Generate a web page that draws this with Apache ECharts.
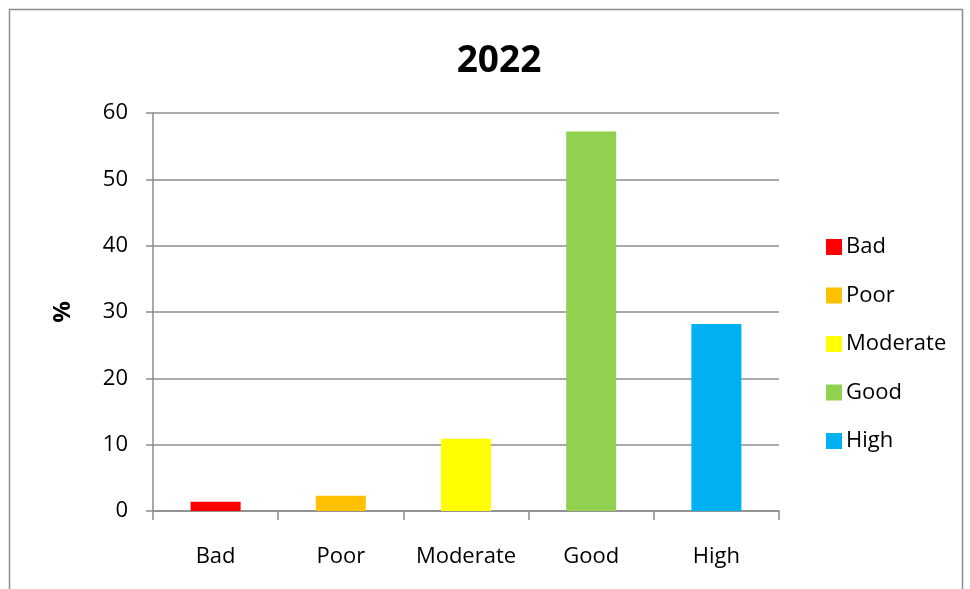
<!DOCTYPE html>
<html>
<head>
<meta charset="utf-8">
<script src="https://cdn.jsdelivr.net/npm/echarts@6/dist/echarts.min.js"></script>
<style>
html,body{margin:0;padding:0;background:#fff;}
#chart{width:970px;height:589px;}
</style>
</head>
<body>
<div id="chart"></div>
<script>
const titleText = '2022';
const categories = ['Bad', 'Poor', 'Moderate', 'Good', 'High'];
const values = [1.4, 2.3, 10.9, 57.2, 28.2];
const colors = ['#ff0000', '#ffc000', '#ffff00', '#92d050', '#00b0f0'];
const yTicks = { min: 0, max: 60, interval: 10 };
const yName = '%';

const FONT = '"Open Sans", sans-serif';
const chart = echarts.init(document.getElementById('chart'), null, { renderer: 'canvas' });

const series = categories.map((name, i) => ({
  name: name,
  type: 'bar',
  barWidth: 50,
  barGap: '-100%',
  itemStyle: { color: colors[i] },
  data: categories.map((c, j) => (j === i ? values[i] : '-'))
}));

chart.setOption({
  animation: false,
  backgroundColor: '#ffffff',
  graphic: [{
    type: 'rect',
    shape: { x: 9.5, y: 9.5, width: 953, height: 600 },
    style: { fill: 'none', stroke: '#8c8c8c', lineWidth: 1.5 },
    silent: true,
    z: 100
  }],
  title: {
    text: titleText,
    left: 494,
    top: 37,
    textAlign: 'center',
    textStyle: { fontFamily: FONT, fontWeight: 'bold', fontSize: 37, color: '#000', lineHeight: 38 }
  },
  legend: {
    orient: 'vertical',
    left: 821,
    top: 231,
    itemWidth: 16,
    itemHeight: 16,
    itemGap: 26.5,
    icon: 'rect',
    textStyle: { fontFamily: FONT, fontSize: 22, color: '#000', lineHeight: 18, padding: [0, 0, 0, -1] },
    data: categories
  },
  grid: { left: 153, right: 191, top: 113, bottom: 78 },
  xAxis: {
    type: 'category',
    data: categories,
    boundaryGap: true,
    axisLine: { show: true, lineStyle: { color: '#8c8c8c', width: 1.5 } },
    axisTick: { show: true, length: 9, alignWithLabel: false, interval: 0, lineStyle: { color: '#8c8c8c', width: 1.5 } },
    axisLabel: { fontFamily: FONT, fontSize: 22, color: '#000', margin: 35, interval: 0 },
    splitLine: { show: false }
  },
  yAxis: {
    type: 'value',
    min: yTicks.min,
    max: yTicks.max,
    interval: yTicks.interval,
    name: yName,
    nameLocation: 'middle',
    nameRotate: 90,
    nameGap: 78,
    nameTextStyle: { fontFamily: FONT, fontWeight: 'bold', fontSize: 24, color: '#000' },
    axisLine: { show: true, lineStyle: { color: '#8c8c8c', width: 1.5 } },
    axisTick: { show: true, length: 7, lineStyle: { color: '#8c8c8c', width: 1.5 } },
    axisLabel: { fontFamily: FONT, fontSize: 22, color: '#000', margin: 25, padding: [5, 0, 0, 0] },
    splitLine: { show: true, lineStyle: { color: '#8c8c8c', width: 1.5 } }
  },
  series: series
});
</script>
</body>
</html>
